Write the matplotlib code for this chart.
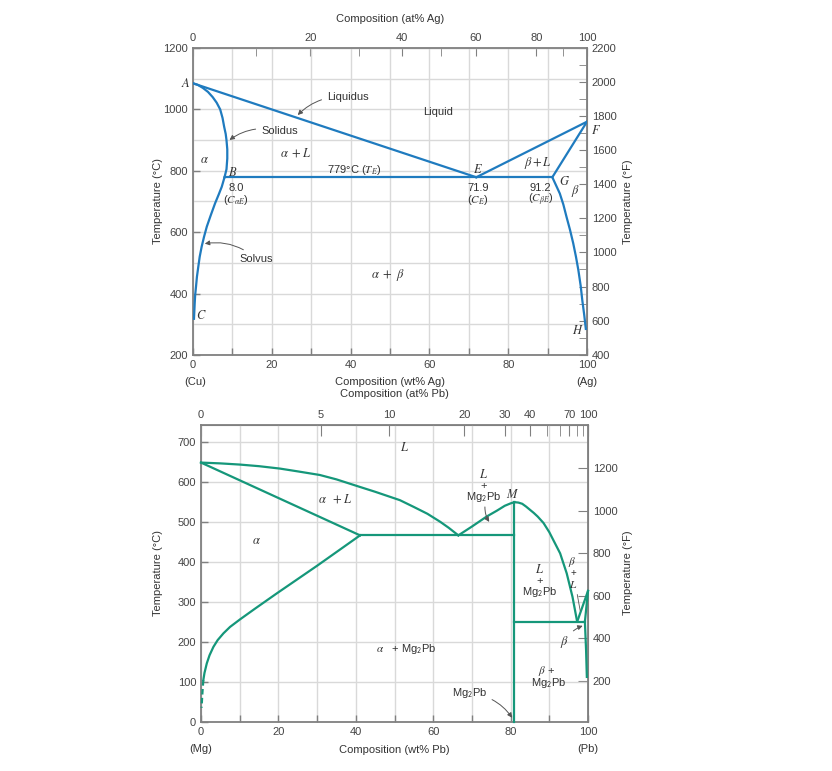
import numpy as np
import matplotlib
matplotlib.use('Agg')
import matplotlib.pyplot as plt

plt.rcParams['font.family'] = ['Liberation Sans', 'DejaVu Sans']
plt.rcParams['mathtext.fontset'] = 'stix'

# ---------------- Cu-Ag data (wt% Ag, degC) ----------------
cuag_liq_left_wt = [0, 71.9]
cuag_liq_left_T = [1085, 779]
cuag_liq_right_wt = [71.9, 100]
cuag_liq_right_T = [779, 960]
cuag_sol_alpha_wt = [0, 1.2, 2.5, 3.8, 5.0, 6.0, 6.9, 7.5, 7.9, 8.3, 8.5, 8.7, 8.7, 8.5, 8.0]
cuag_sol_alpha_T = [1085, 1080, 1070, 1057, 1040, 1022, 1000, 972, 944, 920, 900, 870, 840, 805, 779]
cuag_solvus_alpha_wt = [8.0, 7.3, 6.5, 5.6, 4.5, 3.5, 2.8, 2.2, 1.7, 1.35, 1.0, 0.76, 0.55, 0.43, 0.25]
cuag_solvus_alpha_T = [779, 748, 722, 694, 655, 618, 585, 553, 520, 488, 455, 422, 395, 368, 318]
cuag_sol_beta_wt = [91.2, 100]
cuag_sol_beta_T = [779, 960]
cuag_solvus_beta_wt = [91.2, 93.1, 94.0, 94.8, 95.7, 96.5, 97.2, 97.8, 98.4, 98.8, 99.3, 99.7]
cuag_solvus_beta_T = [779, 726, 690, 650, 607, 564, 520, 477, 425, 379, 330, 285]
cuag_eut_wt = [8.0, 91.2]
cuag_eut_T = [779, 779]

# ---------------- Mg-Pb data (wt% Pb, degC) ----------------
mgpb_liq_left_wt = [0, 5, 10.1, 15, 20.4, 25, 30.7, 35, 41.1, 45, 51.4, 55, 58.5, 61.8, 64, 66.5]
mgpb_liq_left_T = [648, 646, 643, 639, 633, 626, 617, 606, 587, 575, 554, 537, 520, 500, 485, 466]
mgpb_sol_alpha_wt = [0, 41.1]
mgpb_sol_alpha_T = [648, 466]
mgpb_solvus_alpha_wt = [41.1, 30, 19.6, 14, 10.1, 7.5, 5.8, 4.3, 3.2, 2.2, 1.5, 0.9, 0.6]
mgpb_solvus_alpha_T = [466, 390, 321, 283, 256, 237, 221, 204, 187, 166, 146, 122, 104]
mgpb_solvus_dash_wt = [0.6, 0.35, 0.15]
mgpb_solvus_dash_T = [104, 70, 35]
mgpb_eut1_wt = [41.1, 81]
mgpb_eut1_T = [466, 466]
mgpb_liq_mid_wt = [66.5, 70, 73.8, 76.5, 78.5, 80, 81]
mgpb_liq_mid_T = [466, 488, 513, 528, 540, 546, 549]
mgpb_liq_right_wt = [81, 82, 83, 84, 85, 86, 87, 88.5, 90, 91, 92.8, 94.5, 96, 97.2]
mgpb_liq_right_T = [549, 548, 545, 538, 530, 522, 513, 497, 474, 455, 421, 371, 312, 250]
mgpb_comp_wt = [81, 81]
mgpb_comp_T = [0, 549]
mgpb_eut2_wt = [81, 99.2]
mgpb_eut2_T = [250, 250]
mgpb_liq_pb_wt = [97.2, 100]
mgpb_liq_pb_T = [250, 327]
mgpb_sol_beta_wt = [99.2, 100]
mgpb_sol_beta_T = [250, 327]
mgpb_solvus_beta_wt = [99.2, 99.5, 99.7]
mgpb_solvus_beta_T = [250, 180, 112]

# tick label lists
cuag_at_labels = [0, 20, 40, 60, 80, 100]
cuag_at_minor = [10, 30, 50, 70, 90]
mgpb_at_labels = [0, 5, 10, 20, 30, 40, 70, 100]
mgpb_at_minor = [50, 60, 80, 90]
cuag_F_labels = list(range(400, 2201, 200))
cuag_F_minor = list(range(500, 2200, 200))
mgpb_F_labels = list(range(200, 1201, 200))

BLUE = '#1f7bbf'
GREEN = '#15977a'
TXT = '#333333'
SPINE = '#808080'
GRID = '#d9d9d9'
FS = 8

W, H = 832, 771
fig = plt.figure(figsize=(W / 100, H / 100), dpi=100)


def ax_rect(x0, y0, x1, y1):
    return [x0 / W, 1 - y1 / H, (x1 - x0) / W, (y1 - y0) / H]


def wt_to_at(w, ma, mb):
    w = np.clip(np.asarray(w, dtype=float), 0, 100)
    nb = w / mb
    na = (100 - w) / ma
    return 100 * nb / np.where(nb + na == 0, 1, nb + na)


def at_to_wt(a, ma, mb):
    a = np.clip(np.asarray(a, dtype=float), 0, 100)
    mbw = a * mb
    maw = (100 - a) * ma
    return 100 * mbw / np.where(mbw + maw == 0, 1, mbw + maw)


def style_axes(ax):
    for s in ax.spines.values():
        s.set_color(SPINE)
        s.set_linewidth(1.3)
    ax.tick_params(which='both', direction='in', colors=SPINE, labelcolor='#444444',
                   labelsize=FS, width=1.0, length=5)
    ax.grid(which='both', color=GRID, lw=1.0, zorder=0)
    ax.set_axisbelow(True)


lw = 1.6
it = dict(color=TXT, fontsize=9, ha='center', va='center', zorder=5)
it_s = dict(color=TXT, fontsize=8, ha='center', va='center', zorder=5)
sans = dict(color=TXT, fontsize=FS, ha='center', va='center', zorder=5)
sans_s = dict(color=TXT, fontsize=7, ha='center', va='center', zorder=5)
arr = dict(arrowstyle='-|>', color='#555555', lw=0.7, mutation_scale=7)

# ===================== TOP: Cu-Ag =====================
ax1 = fig.add_axes(ax_rect(193, 48, 587, 355))
ax1.set_xlim(0, 100)
ax1.set_ylim(200, 1200)
ax1.set_xticks(np.arange(0, 101, 20))
ax1.set_xticks(np.arange(10, 100, 20), minor=True)
ax1.set_yticks(np.arange(200, 1201, 200))
ax1.set_yticks(np.arange(300, 1200, 200), minor=True)
style_axes(ax1)
ax1.tick_params(axis='y', which='minor', length=0)

for xs, ys in [(cuag_liq_left_wt, cuag_liq_left_T), (cuag_liq_right_wt, cuag_liq_right_T),
               (cuag_sol_alpha_wt, cuag_sol_alpha_T), (cuag_solvus_alpha_wt, cuag_solvus_alpha_T),
               (cuag_sol_beta_wt, cuag_sol_beta_T), (cuag_solvus_beta_wt, cuag_solvus_beta_T),
               (cuag_eut_wt, cuag_eut_T)]:
    ax1.plot(xs, ys, color=BLUE, lw=lw, solid_joinstyle='round', zorder=3)

ma_cu, mb_ag = 63.546, 107.868
top1 = ax1.secondary_xaxis('top', functions=(lambda w: wt_to_at(w, ma_cu, mb_ag),
                                             lambda a: at_to_wt(a, ma_cu, mb_ag)))
top1.set_xticks(cuag_at_labels)
top1.set_xticks(cuag_at_minor, minor=True)
top1.tick_params(which='both', direction='in', length=6, colors=SPINE,
                 labelcolor='#444444', labelsize=FS)
top1.spines['top'].set_color(SPINE)

# right scale as printed in the reference (°F)
right1 = ax1.secondary_yaxis('right', functions=(lambda c: 398 + (c - 200) * 1.8025,
                                                 lambda f: 200 + (f - 398) / 1.8025))
right1.set_yticks(cuag_F_labels)
right1.set_yticks(cuag_F_minor, minor=True)
right1.tick_params(which='both', direction='in', length=6, colors=SPINE,
                   labelcolor='#444444', labelsize=FS)
right1.spines['right'].set_color(SPINE)

ax1.text(-1.8, 1085, '$A$', **it)
ax1.text(62.2, 991, 'Liquid', **sans)
ax1.text(3, 835, r'$\alpha$', **it)
ax1.text(26, 858, r'$\alpha\ +L$', **it)
ax1.text(41, 803, r'779°C ($T_E$)', **sans)
ax1.text(10, 796, '$B$', **it)
ax1.text(72.3, 803, '$E$', **it)
ax1.text(87.6, 825, r'$\beta + L$', **it)
ax1.text(11, 744, '8.0', **sans)
ax1.text(11, 705, r'($C_{\alpha E}$)', **sans)
ax1.text(72.3, 744, '71.9', **sans)
ax1.text(72.3, 705, r'($C_E$)', **sans)
ax1.text(88.2, 744, '91.2', **sans)
ax1.text(88.2, 705, r'($C_{\beta E}$)', **sans)
ax1.text(94.4, 766, '$G$', **it)
ax1.text(97.0, 733, r'$\beta$', **it)
ax1.text(102.4, 930, '$F$', clip_on=False, **it)
ax1.text(49.5, 461, r'$\alpha\ +\ \beta$', **it)
ax1.text(2.1, 330, '$C$', **it)
ax1.text(97.8, 281, '$H$', **it)

ax1.annotate('Liquidus', xy=(26.1, 975), xytext=(34.0, 1040), color=TXT, fontsize=FS,
             ha='left', va='center',
             arrowprops=dict(connectionstyle='arc3,rad=0.25', **arr))
ax1.annotate('Solidus', xy=(8.7, 895), xytext=(17.3, 930), color=TXT, fontsize=FS,
             ha='left', va='center',
             arrowprops=dict(connectionstyle='arc3,rad=0.25', **arr))
ax1.annotate('Solvus', xy=(2.3, 561), xytext=(11.8, 513), color=TXT, fontsize=FS,
             ha='left', va='center',
             arrowprops=dict(connectionstyle='arc3,rad=0.25', **arr))

fig.text(158 / W, 1 - 201.5 / H, 'Temperature (°C)', rotation=90, ha='center', va='center',
         color=TXT, fontsize=FS)
fig.text(628 / W, 1 - 201.5 / H, 'Temperature (°F)', rotation=90, ha='center', va='center',
         color=TXT, fontsize=FS)
fig.text(390 / W, 1 - 19 / H, 'Composition (at% Ag)', ha='center', va='center', color=TXT, fontsize=FS)
fig.text(390 / W, 1 - 382 / H, 'Composition (wt% Ag)', ha='center', va='center', color=TXT, fontsize=FS)
fig.text(195 / W, 1 - 382 / H, '(Cu)', ha='center', va='center', color=TXT, fontsize=FS)
fig.text(587 / W, 1 - 382 / H, '(Ag)', ha='center', va='center', color=TXT, fontsize=FS)

# ===================== BOTTOM: Mg-Pb =====================
ax2 = fig.add_axes(ax_rect(201, 425, 588, 721.7))
ax2.set_xlim(0, 100)
ax2.set_ylim(0, 742)
ax2.set_xticks(np.arange(0, 101, 20))
ax2.set_xticks(np.arange(10, 100, 20), minor=True)
ax2.set_yticks(np.arange(0, 701, 100))
style_axes(ax2)

for xs, ys in [(mgpb_liq_left_wt, mgpb_liq_left_T), (mgpb_sol_alpha_wt, mgpb_sol_alpha_T),
               (mgpb_solvus_alpha_wt, mgpb_solvus_alpha_T), (mgpb_eut1_wt, mgpb_eut1_T),
               (mgpb_liq_mid_wt, mgpb_liq_mid_T), (mgpb_liq_right_wt, mgpb_liq_right_T),
               (mgpb_comp_wt, mgpb_comp_T), (mgpb_eut2_wt, mgpb_eut2_T),
               (mgpb_liq_pb_wt, mgpb_liq_pb_T), (mgpb_sol_beta_wt, mgpb_sol_beta_T),
               (mgpb_solvus_beta_wt, mgpb_solvus_beta_T)]:
    ax2.plot(xs, ys, color=GREEN, lw=lw, solid_joinstyle='round', zorder=3, clip_on=False)
ax2.plot(mgpb_solvus_dash_wt, mgpb_solvus_dash_T, color=GREEN, lw=lw, ls=(0, (2.5, 1.5)), zorder=3,
         clip_on=False)

ma_mg, mb_pb = 24.305, 207.2
top2 = ax2.secondary_xaxis('top', functions=(lambda w: wt_to_at(w, ma_mg, mb_pb),
                                             lambda a: at_to_wt(a, ma_mg, mb_pb)))
top2.set_xticks(mgpb_at_labels)
top2.set_xticks(mgpb_at_minor, minor=True)
top2.tick_params(which='both', direction='in', length=8, colors=SPINE,
                 labelcolor='#444444', labelsize=FS)
top2.spines['top'].set_color(SPINE)

# right scale as printed in the reference (°F)
right2 = ax2.secondary_yaxis('right', functions=(lambda c: 200 + (c - 102.5) * 1.8832,
                                                 lambda f: 102.5 + (f - 200) / 1.8832))
right2.set_yticks(mgpb_F_labels)
right2.tick_params(which='both', direction='in', length=7, colors=SPINE,
                   labelcolor='#444444', labelsize=FS)
right2.spines['right'].set_color(SPINE)

mg2pb = r'Mg$_\mathsf{2}$Pb'
ax2.text(52.7, 686, '$L$', **it)
ax2.text(34.6, 556, r'$\alpha\ \ +L$', **it)
ax2.text(14.2, 452, r'$\alpha$', **it)
ax2.text(73.1, 617, '$L$', **it)
ax2.text(73.1, 589, '+', **sans)
ax2.text(73.1, 561, mg2pb, **sans)
ax2.text(80.6, 569, '$M$', **it)
ax2.text(87.6, 381, '$L$', **it)
ax2.text(87.6, 353, '+', **sans)
ax2.text(87.6, 324, mg2pb, **sans)
ax2.text(95.9, 399, r'$\beta$', **it_s)
ax2.text(96.1, 371, '+', **sans_s)
ax2.text(96.1, 342, '$L$', **it_s)
ax2.text(89.3, 127, r'$\beta$ +', **sans)
ax2.text(89.7, 96, mg2pb, **sans)
ax2.text(53, 183, r'$\alpha$   + ' + mg2pb, **sans)

ax2.annotate('', xy=(74.9, 494), xytext=(73.4, 544),
             arrowprops=dict(connectionstyle='arc3,rad=0.2', **arr))
ax2.annotate('', xy=(98.1, 271), xytext=(97.1, 325),
             arrowprops=dict(arrowstyle='-', color='#555555', lw=0.6))
ax2.annotate(r'$\beta$', xy=(99.3, 242), xytext=(93.8, 200), color=TXT, fontsize=9,
             ha='center', va='center',
             arrowprops=dict(connectionstyle='arc3,rad=-0.2', **arr))
ax2.annotate(mg2pb, xy=(80.8, 4), xytext=(69.3, 71), color=TXT, fontsize=FS,
             ha='center', va='center',
             arrowprops=dict(connectionstyle='arc3,rad=-0.25', **arr))

fig.text(158 / W, 1 - 573 / H, 'Temperature (°C)', rotation=90, ha='center', va='center',
         color=TXT, fontsize=FS)
fig.text(628 / W, 1 - 573 / H, 'Temperature (°F)', rotation=90, ha='center', va='center',
         color=TXT, fontsize=FS)
fig.text(394 / W, 1 - 394 / H, 'Composition (at% Pb)', ha='center', va='center', color=TXT, fontsize=FS)
fig.text(394 / W, 1 - 750 / H, 'Composition (wt% Pb)', ha='center', va='center', color=TXT, fontsize=FS)
fig.text(201 / W, 1 - 749 / H, '(Mg)', ha='center', va='center', color=TXT, fontsize=FS)
fig.text(588 / W, 1 - 749 / H, '(Pb)', ha='center', va='center', color=TXT, fontsize=FS)

fig.savefig('out.png', dpi=100)
